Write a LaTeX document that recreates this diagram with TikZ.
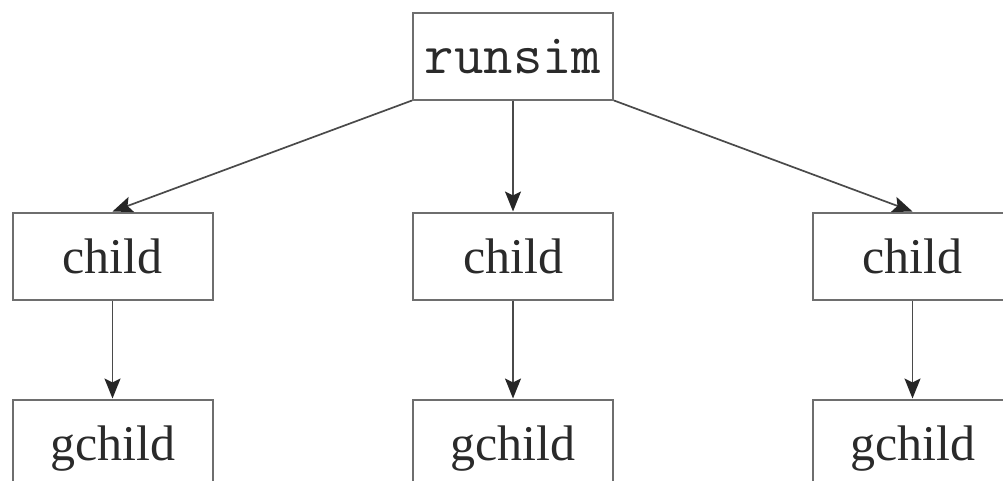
\documentclass[tikz,border=0pt]{standalone}
\usepackage{fontspec}
\setmainfont{Liberation Serif}
\usetikzlibrary{arrows.meta}
\definecolor{boxline}{HTML}{6E6E6E}
\definecolor{arrline}{HTML}{4A4A4A}
\definecolor{txt}{HTML}{2A2A2A}
\begin{document}
\begin{tikzpicture}[x=1pt,y=-1pt,
  box/.style={draw=boxline,line width=2pt,minimum width=200pt,minimum height=87pt,
    inner sep=0pt,text height=34pt,text depth=0pt,font=\fontsize{50}{50}\selectfont,text=txt},
  ttbox/.style={box,font=\fontsize{57}{57}\selectfont\ttfamily},
  arr/.style={draw=arrline,line width=1.7pt,-{Stealth[length=20pt,width=16pt,inset=4pt,color=black!85]}}]
\useasboundingbox (0,0) rectangle (1003,480);
\clip (0,0) rectangle (1003,480);
\node[ttbox] (r) at (513,56) {runsim};
\node[box] (c1) at (112.5,256) {child};
\node[box] (c2) at (513,256) {child};
\node[box] (c3) at (912.5,256) {child};
\node[box] (g1) at (112.5,443) {gchild};
\node[box] (g2) at (513,443) {gchild};
\node[box] (g3) at (912.5,443) {gchild};
\draw[arr] (r.south west) -- (c1.north);
\draw[arr] (r.south) -- (c2.north);
\draw[arr] (r.south east) -- (c3.north);
\draw[arr] (c1.south) -- (g1.north);
\draw[arr] (c2.south) -- (g2.north);
\draw[arr] (c3.south) -- (g3.north);
\end{tikzpicture}
\end{document}
